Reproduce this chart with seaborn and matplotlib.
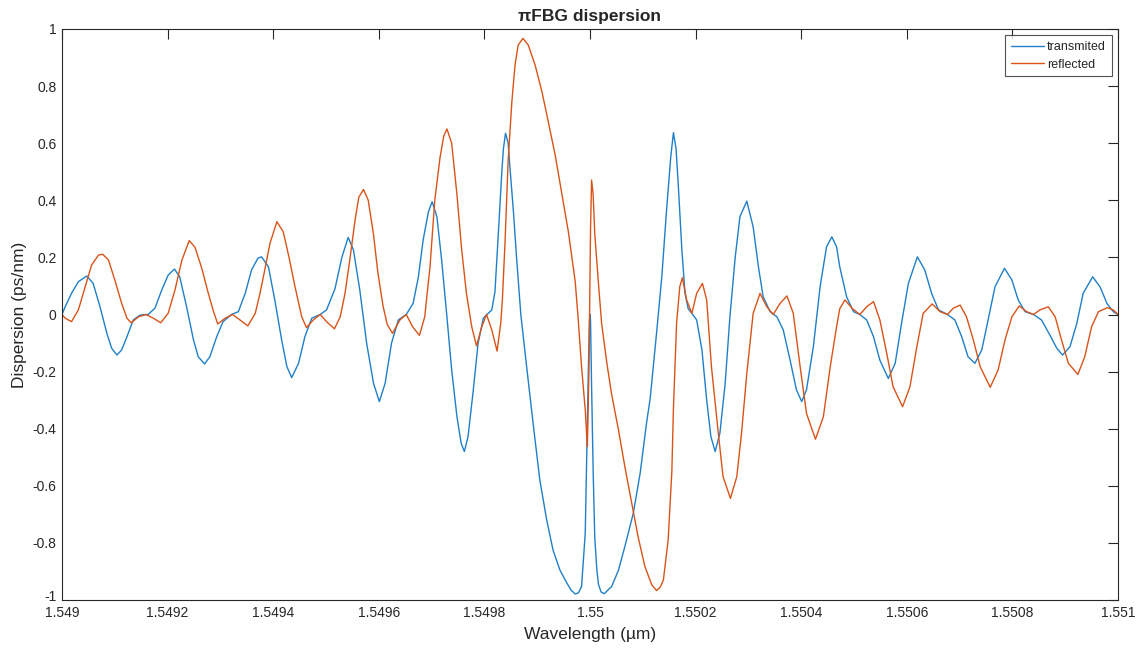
import numpy as np
import pandas as pd
import matplotlib
matplotlib.use("Agg")
import matplotlib.pyplot as plt
import matplotlib.transforms as mtransforms
import seaborn as sns

# ---- data (wavelength in µm, dispersion in ps/nm) ----
wl_transmitted = [
    1.549000, 1.549006, 1.549018, 1.549031, 1.549047, 1.549059, 1.549072, 1.549085,
    1.549094, 1.549104, 1.549113, 1.549123, 1.549135, 1.549148, 1.549163, 1.549176,
    1.549189, 1.549201, 1.549213, 1.549223, 1.549236, 1.549249, 1.549258, 1.549270,
    1.549280, 1.549293, 1.549305, 1.549321, 1.549334, 1.549347, 1.549359, 1.549371,
    1.549378, 1.549391, 1.549403, 1.549416, 1.549426, 1.549435, 1.549448, 1.549460,
    1.549473, 1.549489, 1.549501, 1.549517, 1.549530, 1.549542, 1.549552, 1.549564,
    1.549577, 1.549590, 1.549601, 1.549612, 1.549624, 1.549637, 1.549652, 1.549665,
    1.549675, 1.549684, 1.549694, 1.549701, 1.549710, 1.549719, 1.549729, 1.549738,
    1.549748, 1.549756, 1.549762, 1.549769, 1.549779, 1.549788, 1.549798, 1.549805,
    1.549814, 1.549820, 1.549826, 1.549833, 1.549836, 1.549840, 1.549845, 1.549848,
    1.549855, 1.549861, 1.549869, 1.549880, 1.549893, 1.549905, 1.549918, 1.549930,
    1.549943, 1.549956, 1.549964, 1.549972, 1.549978, 1.549984, 1.549991, 1.549994,
    1.549997, 1.5499990, 1.5500000, 1.5500010, 1.550003, 1.550006, 1.550009, 1.550013,
    1.550016, 1.550021, 1.550027, 1.550034, 1.550041, 1.550054, 1.550066, 1.550082,
    1.550095, 1.550107, 1.550114, 1.550126, 1.550136, 1.550145, 1.550153, 1.550158,
    1.550163, 1.550167, 1.550174, 1.550180, 1.550186, 1.550193, 1.550202, 1.550212,
    1.550221, 1.550229, 1.550237, 1.550246, 1.550256, 1.550265, 1.550275, 1.550284,
    1.550297, 1.550309, 1.550319, 1.550328, 1.550341, 1.550354, 1.550366, 1.550379,
    1.550391, 1.550401, 1.550410, 1.550423, 1.550436, 1.550448, 1.550458, 1.550467,
    1.550473, 1.550486, 1.550499, 1.550511, 1.550524, 1.550537, 1.550549, 1.550565,
    1.550578, 1.550590, 1.550603, 1.550620, 1.550634, 1.550647, 1.550660, 1.550677,
    1.550691, 1.550704, 1.550716, 1.550729, 1.550742, 1.550754, 1.550767, 1.550785,
    1.550799, 1.550811, 1.550824, 1.550840, 1.550855, 1.550871, 1.550884, 1.550895,
    1.550909, 1.550922, 1.550934, 1.550952, 1.550966, 1.550979, 1.550991, 1.551000,
]
disp_transmitted = [
    0.0, 0.027, 0.074, 0.115, 0.135, 0.109, 0.027, -0.066,
    -0.118, -0.142, -0.124, -0.078, -0.019, -0.002, 0.0, 0.022,
    0.086, 0.138, 0.159, 0.132, 0.027, -0.089, -0.148, -0.173,
    -0.148, -0.078, -0.025, 0.0, 0.010, 0.074, 0.156, 0.197,
    0.202, 0.167, 0.051, -0.089, -0.183, -0.221, -0.171, -0.078,
    -0.013, 0.0, 0.016, 0.090, 0.200, 0.270, 0.226, 0.086,
    -0.101, -0.241, -0.305, -0.241, -0.101, -0.019, 0.0, 0.039,
    0.132, 0.261, 0.360, 0.395, 0.343, 0.191, -0.008, -0.194,
    -0.358, -0.451, -0.480, -0.428, -0.264, -0.101, -0.013, 0.0,
    0.016, 0.080, 0.270, 0.500, 0.580, 0.635, 0.600, 0.524,
    0.360, 0.197, 0.0, -0.183, -0.393, -0.580, -0.720, -0.825,
    -0.895, -0.940, -0.965, -0.979, -0.975, -0.953, -0.766, -0.475,
    -0.183, -0.020, 0.0, -0.020, -0.250, -0.550, -0.780, -0.895,
    -0.945, -0.972, -0.978, -0.965, -0.953, -0.895, -0.813, -0.696,
    -0.556, -0.381, -0.294, -0.066, 0.132, 0.366, 0.553, 0.637,
    0.580, 0.460, 0.226, 0.074, 0.020, 0.004, -0.019, -0.124,
    -0.300, -0.428, -0.480, -0.416, -0.241, -0.008, 0.200, 0.343,
    0.397, 0.307, 0.167, 0.062, 0.010, -0.008, -0.054, -0.160,
    -0.264, -0.305, -0.264, -0.113, 0.100, 0.237, 0.272, 0.237,
    0.167, 0.062, 0.010, 0.0, -0.019, -0.078, -0.160, -0.224,
    -0.171, -0.031, 0.109, 0.202, 0.156, 0.074, 0.016, 0.0,
    -0.019, -0.078, -0.148, -0.171, -0.124, -0.019, 0.097, 0.162,
    0.121, 0.051, 0.010, 0.0, -0.019, -0.072, -0.118, -0.142,
    -0.113, -0.031, 0.074, 0.132, 0.097, 0.039, 0.010, 0.0,
]

wl_reflected = [
    1.549000, 1.549006, 1.549018, 1.549031, 1.549044, 1.549056, 1.549069, 1.549077,
    1.549088, 1.549100, 1.549113, 1.549123, 1.549131, 1.549145, 1.549159, 1.549173,
    1.549187, 1.549201, 1.549214, 1.549227, 1.549241, 1.549252, 1.549265, 1.549277,
    1.549287, 1.549295, 1.549309, 1.549323, 1.549337, 1.549352, 1.549366, 1.549375,
    1.549384, 1.549394, 1.549407, 1.549419, 1.549430, 1.549441, 1.549454, 1.549463,
    1.549476, 1.549489, 1.549501, 1.549516, 1.549527, 1.549536, 1.549545, 1.549555,
    1.549562, 1.549571, 1.549580, 1.549590, 1.549598, 1.549608, 1.549616, 1.549626,
    1.549640, 1.549652, 1.549664, 1.549677, 1.549687, 1.549697, 1.549706, 1.549716,
    1.549723, 1.549729, 1.549738, 1.549748, 1.549757, 1.549766, 1.549776, 1.549785,
    1.549795, 1.549804, 1.549814, 1.549824, 1.549831, 1.549834, 1.549839, 1.549845,
    1.549852, 1.549858, 1.549864, 1.549873, 1.549883, 1.549896, 1.549909, 1.549921,
    1.549934, 1.549946, 1.549959, 1.549972, 1.549977, 1.549984, 1.549991, 1.549995,
    1.549998, 1.550001, 1.550003, 1.550006, 1.550009, 1.550016, 1.550022, 1.550032,
    1.550041, 1.550054, 1.550066, 1.550079, 1.550091, 1.550104, 1.550117, 1.550126,
    1.550133, 1.550139, 1.550148, 1.550152, 1.550155, 1.550158, 1.550164, 1.550170,
    1.550175, 1.550183, 1.550193, 1.550202, 1.550213, 1.550221, 1.550230, 1.550243,
    1.550252, 1.550266, 1.550278, 1.550287, 1.550297, 1.550309, 1.550322, 1.550335,
    1.550347, 1.550360, 1.550373, 1.550385, 1.550398, 1.550410, 1.550427, 1.550442,
    1.550455, 1.550467, 1.550473, 1.550483, 1.550496, 1.550511, 1.550524, 1.550537,
    1.550549, 1.550562, 1.550574, 1.550592, 1.550606, 1.550619, 1.550631, 1.550648,
    1.550663, 1.550677, 1.550688, 1.550701, 1.550713, 1.550726, 1.550739, 1.550758,
    1.550773, 1.550786, 1.550799, 1.550813, 1.550827, 1.550840, 1.550852, 1.550868,
    1.550881, 1.550893, 1.550906, 1.550924, 1.550937, 1.550950, 1.550963, 1.550980,
    1.550991, 1.551000,
]
disp_reflected = [
    0.0, -0.013, -0.025, 0.016, 0.097, 0.173, 0.208, 0.211,
    0.191, 0.121, 0.039, -0.013, -0.029, -0.008, 0.0, -0.013,
    -0.029, 0.004, 0.086, 0.190, 0.259, 0.235, 0.160, 0.075,
    0.010, -0.033, -0.013, 0.0, -0.019, -0.040, 0.004, 0.074,
    0.156, 0.250, 0.325, 0.290, 0.200, 0.100, -0.008, -0.046,
    -0.019, 0.0, -0.025, -0.050, -0.008, 0.074, 0.190, 0.330,
    0.410, 0.438, 0.400, 0.280, 0.150, 0.030, -0.035, -0.066,
    -0.019, 0.0, -0.043, -0.073, -0.008, 0.167, 0.400, 0.550,
    0.625, 0.650, 0.600, 0.420, 0.226, 0.074, -0.043, -0.110,
    -0.043, 0.0, -0.054, -0.128, -0.030, 0.050, 0.250, 0.540,
    0.745, 0.874, 0.944, 0.967, 0.944, 0.874, 0.780, 0.675,
    0.559, 0.430, 0.290, 0.115, 0.0, -0.183, -0.334, -0.463,
    -0.200, 0.300, 0.471, 0.420, 0.284, 0.109, -0.031, -0.171,
    -0.280, -0.405, -0.533, -0.661, -0.778, -0.883, -0.947, -0.967,
    -0.955, -0.930, -0.790, -0.650, -0.550, -0.330, -0.030, 0.097,
    0.129, 0.051, 0.004, 0.074, 0.109, 0.051, -0.183, -0.416,
    -0.568, -0.644, -0.568, -0.416, -0.206, 0.004, 0.074, 0.027,
    0.0, 0.039, 0.065, 0.004, -0.183, -0.346, -0.437, -0.358,
    -0.183, -0.043, 0.020, 0.051, 0.022, 0.0, 0.027, 0.045,
    -0.019, -0.136, -0.253, -0.323, -0.253, -0.113, 0.004, 0.037,
    0.010, 0.0, 0.022, 0.033, -0.008, -0.089, -0.183, -0.255,
    -0.194, -0.089, -0.008, 0.030, 0.010, 0.0, 0.016, 0.027,
    -0.008, -0.089, -0.171, -0.210, -0.148, -0.043, 0.010, 0.024,
    0.016, 0.0,
]

series_names = ["transmited", "reflected"]
x_ticks = [1.549, 1.5492, 1.5494, 1.5496, 1.5498, 1.55, 1.5502, 1.5504, 1.5506, 1.5508, 1.551]
x_tick_labels = ["1.549", "1.5492", "1.5494", "1.5496", "1.5498", "1.55",
                 "1.5502", "1.5504", "1.5506", "1.5508", "1.551"]
y_ticks = [-1, -0.8, -0.6, -0.4, -0.2, 0, 0.2, 0.4, 0.6, 0.8, 1]
y_tick_labels = ["-1", "-0.8", "-0.6", "-0.4", "-0.2", "0", "0.2", "0.4", "0.6", "0.8", "1"]

df = pd.concat([
    pd.DataFrame({"wl": wl_transmitted, "d": disp_transmitted, "s": series_names[0]}),
    pd.DataFrame({"wl": wl_reflected, "d": disp_reflected, "s": series_names[1]}),
], ignore_index=True)

sns.set_theme(style="white")
plt.rcParams["font.family"] = ["Liberation Sans", "DejaVu Sans"]

fig = plt.figure(figsize=(11.4, 6.52), dpi=100)
ax = fig.add_axes([62 / 1140, 1 - 600 / 652, (1118 - 62) / 1140, (600 - 29) / 652])

sns.lineplot(data=df, x="wl", y="d", hue="s", estimator=None, sort=False,
             palette={"transmited": "#1f7fc8", "reflected": "#D95319"},
             linewidth=1.0, ax=ax)
for ln in ax.get_lines():
    ln.set_solid_joinstyle("round")
    ln.set_solid_capstyle("round")

ax.set_xlim(1.549, 1.551)
ax.set_ylim(-1, 1)
ax.set_xticks(x_ticks)
ax.set_xticklabels(x_tick_labels)
ax.set_yticks(y_ticks)
ax.set_yticklabels(y_tick_labels)
ax.tick_params(direction="in", length=7, width=0.8, color="#262626",
               top=True, right=True, labelsize=10, labelcolor="#262626")
ax.tick_params(axis="x", pad=4)
ax.tick_params(axis="y", pad=4)
for sp in ax.spines.values():
    sp.set_color("#262626")
    sp.set_linewidth(0.8)

# lift the bottom y label ("-1") slightly, as in the reference, so it clears "1.549"
bottom_lbl = ax.get_yticklabels()[0]
bottom_lbl.set_transform(bottom_lbl.get_transform() +
                         mtransforms.ScaledTranslation(0, 3 / 72, fig.dpi_scale_trans))

ax.set_xlabel("Wavelength (µm)", fontsize=12.5, color="#262626", labelpad=5)
ax.set_ylabel("Dispersion (ps/nm)", fontsize=12.5, color="#262626", labelpad=4)
ax.set_title("πFBG dispersion", fontsize=12.5, fontweight="bold", pad=6)

leg = ax.legend(loc="upper right", fontsize=9, frameon=True, fancybox=False,
                edgecolor="#262626", borderpad=0.45, handlelength=2.6,
                handletextpad=0.3, labelspacing=0.45, borderaxespad=0.5)
leg.get_frame().set_linewidth(0.8)
leg.set_title(None)

fig.savefig("out.png", dpi=100)
